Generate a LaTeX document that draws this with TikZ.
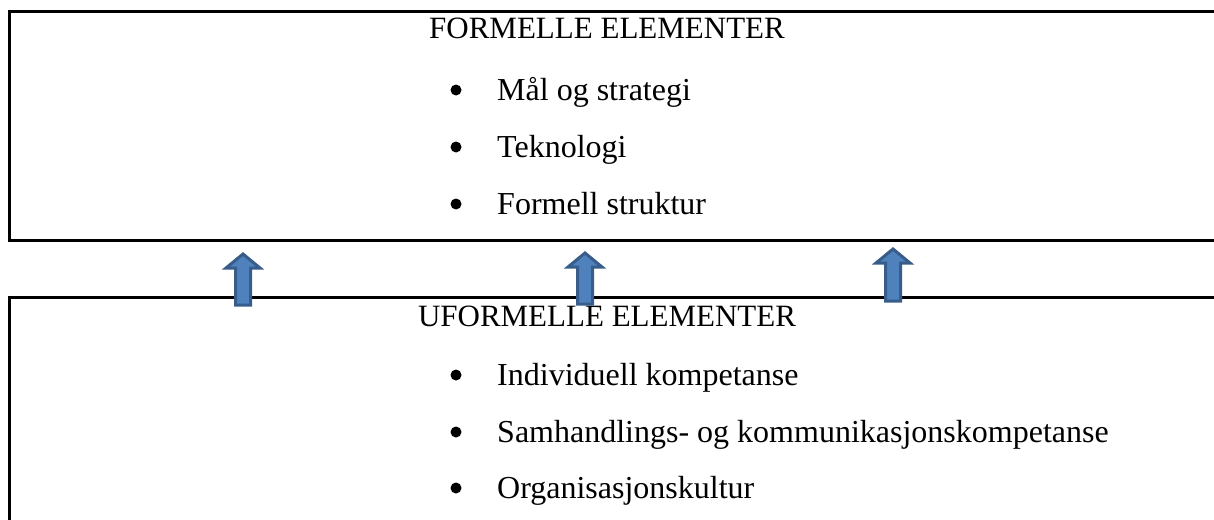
\documentclass[tikz,border=0pt]{standalone}
\usepackage{fontspec}
\setmainfont{Liberation Serif}
\definecolor{arrowfill}{HTML}{4F81BD}
\definecolor{arrowedge}{HTML}{385D8A}
\tikzset{
	heading/.style={anchor=base, inner sep=0pt, font=\fontsize{31}{37}\selectfont},
	item/.style={anchor=base west, inner sep=0pt, font=\fontsize{32}{38}\selectfont},
	dot/.style={circle, fill=black, inner sep=0pt, minimum size=11pt},
	uparrow/.style={fill=arrowfill, draw=arrowedge, line width=3pt, line join=miter}
}
\begin{document}
\begin{tikzpicture}[x=1pt, y=-1pt]
			\useasboundingbox (0,0) rectangle (1214,519);
			\clip (0,0) rectangle (1214,519);
			% the two boxes run on past the right edge
			\draw [line width=3pt] (1230,12) -- (9,12) -- (9,240) -- (1230,240);
			\draw [line width=3pt] (1230,297) -- (9,297) -- (9,530);

			\node [heading] (formal) at (607,38) {FORMELLE ELEMENTER};
			\foreach \y/\txt [count=\i] in {100/Mål og strategi, 157/Teknologi, 214/Formell struktur} {
				\node [dot] (fdot\i) at (456,\y-10) {};
				\node [item] (formal\i) at (497,\y) {\txt};
			}
			\node [heading] (informal) at (607,326) {UFORMELLE ELEMENTER};
			\foreach \y/\txt [count=\i] in {385/Individuell kompetanse, 442/Samhandlings- og kommunikasjonskompetanse, 498/Organisasjonskultur} {
				\node [dot] (udot\i) at (456,\y-10) {};
				\node [item] (informal\i) at (497,\y) {\txt};
			}

			\foreach \x/\t/\b in {243/252/306, 585/251/305, 893/247/302} {
				\filldraw [uparrow] (\x,\t+2) -- (\x+17,\t+16) -- (\x+7.5,\t+16) -- (\x+7.5,\b-1) --
					(\x-7.5,\b-1) -- (\x-7.5,\t+16) -- (\x-17,\t+16) -- cycle;
			}
\end{tikzpicture}
\end{document}
